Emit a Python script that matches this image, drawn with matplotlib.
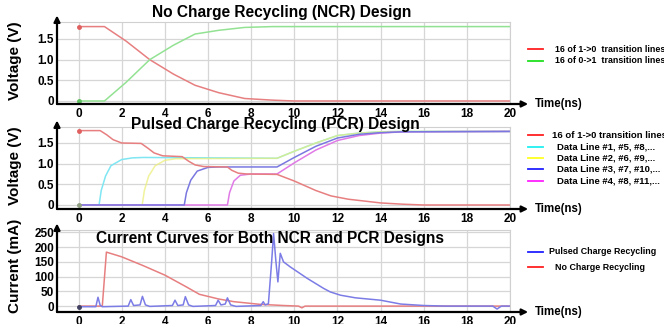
import matplotlib
matplotlib.use("Agg")
import matplotlib.pyplot as plt
from matplotlib.lines import Line2D

plt.rcParams['font.family'] = ['Liberation Sans', 'DejaVu Sans']
plt.rcParams['font.weight'] = 'bold'

# --- panel 1: no charge recycling (voltages)
t_ncr = [0, 1.2, 2.2, 3.3, 4.4, 5.4, 6.5, 7.7, 9, 10, 20]
v_ncr_fall = [1.8, 1.8, 1.45, 1.0, 0.65, 0.38, 0.2, 0.06, 0.02, 0.0, 0.0]
v_ncr_rise = [0.0, 0.0, 0.45, 1.0, 1.35, 1.62, 1.71, 1.78, 1.8, 1.8, 1.8]

# --- panel 2: pulsed charge recycling (voltages)
t_pcr_fall = [0, 1.0, 1.3, 1.6, 2.0, 2.9, 3.2, 3.5, 3.9, 4.8, 5.1, 5.4, 5.8, 6.9,
              7.1, 7.4, 7.8, 9.2, 10, 11, 11.7, 12.5, 14, 15, 16, 20]
v_pcr_fall = [1.8, 1.8, 1.7, 1.58, 1.5, 1.49, 1.38, 1.26, 1.19, 1.17, 1.06, 0.97, 0.93, 0.92,
              0.84, 0.77, 0.75, 0.74, 0.58, 0.35, 0.22, 0.14, 0.05, 0.02, 0.0, 0.0]
t_line1 = [0, 0.95, 1.05, 1.25, 1.5, 2.0, 2.5, 3.0, 9.2, 10, 11, 12, 13, 14, 15, 20]
v_line1 = [0, 0, 0.35, 0.7, 0.95, 1.1, 1.14, 1.15, 1.13, 1.3, 1.5, 1.68, 1.74, 1.77, 1.78, 1.78]
t_line2 = [0, 2.95, 3.05, 3.25, 3.55, 4.0, 4.5, 9.2, 10, 11, 12, 13, 14, 15, 20]
v_line2 = [0, 0, 0.35, 0.7, 0.95, 1.08, 1.12, 1.13, 1.3, 1.5, 1.68, 1.74, 1.77, 1.78, 1.78]
t_line3 = [0, 4.9, 5.0, 5.2, 5.5, 6.0, 6.5, 9.2, 10, 11, 12, 13, 14, 15, 20]
v_line3 = [0, 0, 0.3, 0.6, 0.82, 0.91, 0.92, 0.92, 1.15, 1.42, 1.62, 1.71, 1.75, 1.77, 1.78]
t_line4 = [0, 6.9, 7.0, 7.2, 7.5, 8.0, 9.2, 10, 11, 12, 13, 14, 15, 20]
v_line4 = [0, 0, 0.3, 0.58, 0.72, 0.75, 0.75, 1.02, 1.33, 1.56, 1.68, 1.74, 1.77, 1.78]

# --- panel 3: currents (mA)
t_i_pcr = [0, 0.8, 0.9, 1.0, 1.1, 2.3, 2.42, 2.55, 2.85, 2.96, 3.1, 3.3, 4.35, 4.47, 4.6,
           4.85, 4.95, 5.1, 5.3, 6.35, 6.47, 6.6, 6.8, 6.9, 7.05, 7.3, 8.45, 8.56, 8.65,
           8.8, 8.95, 9.04, 9.15, 9.24, 9.35, 9.5, 9.81, 10.6, 11.36, 11.67, 12.14, 12.84,
           14, 14.93, 16, 17, 19.2, 19.4, 19.6, 20]
i_pcr = [-2, -2, 30, 3, -2, 0, 22, 2, 4, 33, 4, -1, 2, 20, 2,
         4, 32, 4, -1, 2, 20, 4, 7, 28, 4, -1, 2, 15, 4,
         8, 150, 246, 150, 82, 179, 150, 133, 94, 60, 48, 37, 28,
         20, 7, 2, 0, 0, -10, 0, 0]
t_i_ncr = [0, 1.1, 1.29, 2, 3, 4, 5, 5.6, 6.5, 7.2, 8.4, 9.5, 10.2, 10.35, 10.5, 20]
i_ncr = [0, 0, 183, 167, 137, 105, 65, 40, 24, 15, 6, 2, 0, -6, 0, 0]

xticks = list(range(0, 21, 2))
legend1 = ["16 of 1->0  transition lines", "16 of 0->1  transition lines"]
legend2 = ["16 of 1->0 transition lines", "Data Line #1, #5, #8,...", "Data Line #2, #6, #9,...",
           "Data Line #3, #7, #10,...", "Data Line #4, #8, #11,..."]
legend3 = ["Pulsed Charge Recycling", "No Charge Recycling"]

W, H = 664, 324
fig = plt.figure(figsize=(W / 100, H / 100), dpi=100)


def px(x, y):
    return x / W, 1 - y / H


def make_ax(top, bottom):
    ax = fig.add_axes([57 / W, 1 - bottom / H, 453 / W, (bottom - top) / H])
    ax.set_xlim(-1, 20)
    ax.set_xticks(xticks)
    ax.tick_params(length=0, labelsize=8.5, pad=3)
    ax.tick_params(axis='y', pad=2)
    for lab in ax.get_xticklabels() + ax.get_yticklabels():
        lab.set_fontweight('bold')
    ax.grid(color='#d6d6d6', lw=0.9)
    ax.set_axisbelow(True)
    for s in ['left', 'bottom']:
        ax.spines[s].set_visible(False)
    for s in ['top', 'right']:
        ax.spines[s].set_color('#d0d0d0')
    ax.annotate('', xy=(1.04, 0), xytext=(0, 0), xycoords='axes fraction',
                arrowprops=dict(arrowstyle='-|>', color='black', lw=1.6, mutation_scale=9,
                                shrinkA=0, shrinkB=0), annotation_clip=False)
    ax.annotate('', xy=(0, 1.08), xytext=(0, 0), xycoords='axes fraction',
                arrowprops=dict(arrowstyle='-|>', color='black', lw=1.6, mutation_scale=9,
                                shrinkA=0, shrinkB=0), annotation_clip=False)
    return ax


RED = '#e77f80'
lw = 1.1

ax1 = make_ax(22, 104)
ax1.set_ylim(-0.073, 1.911)
ax1.set_yticks([0, 0.5, 1.0, 1.5])
ax1.set_yticklabels(['0', '0.5', '1.0', '1.5'], fontweight='bold')
ax1.plot(t_ncr, v_ncr_fall, color=RED, lw=lw)
ax1.plot(t_ncr, v_ncr_rise, color='#93e293', lw=lw)
ax1.plot(t_ncr[0], v_ncr_fall[0], 'o', ms=2.5, color='#e06060')
ax1.plot(t_ncr[0], v_ncr_rise[0], 'o', ms=2.5, color='#60c060')

ax2 = make_ax(127, 209)
ax2.set_ylim(-0.097, 1.887)
ax2.set_yticks([0, 0.5, 1.0, 1.5])
ax2.set_yticklabels(['0', '0.5', '1.0', '1.5'], fontweight='bold')
ax2.plot(t_line1, v_line1, color='#7fe6f2', lw=lw)
ax2.plot(t_line2, v_line2, color='#ecef7a', lw=lw, alpha=0.75)
ax2.plot(t_line4, v_line4, color='#e07ae6', lw=lw)
ax2.plot(t_line3, v_line3, color='#7a78e0', lw=lw)
ax2.plot(t_pcr_fall, v_pcr_fall, color=RED, lw=lw)
ax2.plot(t_pcr_fall[0], v_pcr_fall[0], 'o', ms=2.5, color='#e06060')
ax2.plot(t_line1[0], v_line1[0], 'o', ms=2.5, color='#90a080')

ax3 = make_ax(230, 312)
ax3.set_ylim(-20, 258)
ax3.set_yticks([0, 50, 100, 150, 200, 250])
ax3.set_yticklabels(['0', '50', '100', '150', '200', '250'], fontweight='bold')
ax3.plot(t_i_ncr, i_ncr, color=RED, lw=lw)
ax3.plot(t_i_pcr, i_pcr, color='#7c7ce6', lw=lw)
ax3.plot(t_i_pcr[0], i_pcr[0], 'o', ms=2.5, color='#404060')

# titles and axis labels
tkw = dict(ha='center', va='center', fontsize=11.2, fontweight='bold')
fig.text(*px(282, 12), "No Charge Recycling (NCR) Design", **tkw)
fig.text(*px(275, 125), "Pulsed Charge Recycling (PCR) Design", **tkw)
fig.text(*px(270, 238), "Current Curves for Both NCR and PCR Designs", **tkw)
ykw = dict(ha='center', va='center', rotation=90, fontsize=11, fontweight='bold')
fig.text(*px(15, 61), "Voltage (V)", **ykw)
fig.text(*px(15, 166), "Voltage (V)", **ykw)
fig.text(*px(15, 266), "Current (mA)", **ykw)
for y in (104, 209, 312):
    fig.text(*px(535, y), "Time(ns)", ha='left', va='center', fontsize=8.3, fontweight='bold')


# legends
def legend_row(y, color, text, tx, size=6.4):
    x0, yy = px(528, y)
    x1, _ = px(543, y)
    fig.add_artist(Line2D([x0, x1], [yy, yy], color=color, lw=1.3, transform=fig.transFigure))
    fig.text(*px(tx, y), text, ha='left', va='center', fontsize=size, fontweight='bold')


legend_row(49, '#ff2020', legend1[0], 555)
legend_row(60.7, '#20e020', legend1[1], 555)
leg2_colors = ['#ff2020', '#20f0f0', '#ffff20', '#2020ff', '#ff20ff']
leg2_y = [135, 146.7, 157.5, 169.3, 181]
for i, (c, y, s) in enumerate(zip(leg2_colors, leg2_y, legend2)):
    legend_row(y, c, s, 551.7 if i == 0 else 557, 6.8 if i == 0 else 6.8)
legend_row(251.7, '#2020ff', legend3[0], 549)
legend_row(267.3, '#ff2020', legend3[1], 555)

fig.savefig("out.png", dpi=100)
